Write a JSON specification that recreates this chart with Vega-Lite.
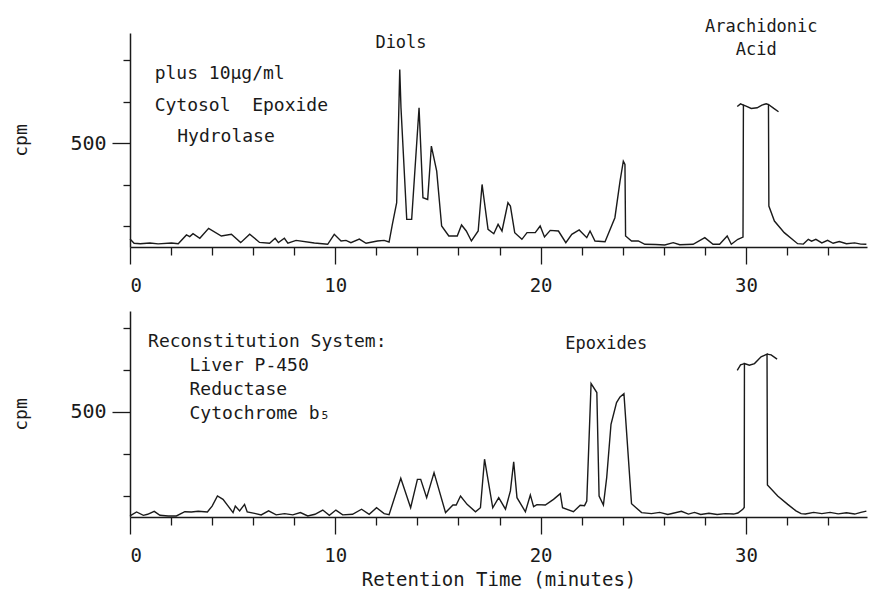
{
  "$schema": "https://vega.github.io/schema/vega-lite/v6.json",
  "padding": {"left": 12, "top": 18, "right": 0, "bottom": 0},
  "background": "white",
  "bounds": "flush",
  "spacing": 64,
  "config": {
    "view": {"stroke": null},
    "font": "DejaVu Sans Mono",
    "axis": {
      "domainColor": "#1a1a1a",
      "domainWidth": 1.5,
      "tickColor": "#1a1a1a",
      "tickWidth": 1.3,
      "labelColor": "#1a1a1a",
      "titleColor": "#1a1a1a",
      "labelFont": "DejaVu Sans Mono",
      "titleFont": "DejaVu Sans Mono",
      "titleFontWeight": "normal",
      "grid": false
    },
    "text": {"font": "DejaVu Sans Mono", "color": "#1a1a1a"}
  },
  "datasets": {
    "top": [
      {"t": 0, "cpm": 38, "seg": "main"}, {"t": 0.2, "cpm": 18, "seg": "main"}, {"t": 0.5, "cpm": 16, "seg": "main"},
      {"t": 0.97, "cpm": 19, "seg": "main"}, {"t": 1.37, "cpm": 15, "seg": "main"}, {"t": 2.02, "cpm": 19, "seg": "main"},
      {"t": 2.35, "cpm": 16, "seg": "main"}, {"t": 2.75, "cpm": 58, "seg": "main"}, {"t": 2.91, "cpm": 50, "seg": "main"},
      {"t": 3.07, "cpm": 64, "seg": "main"}, {"t": 3.4, "cpm": 42, "seg": "main"}, {"t": 3.83, "cpm": 90, "seg": "main"},
      {"t": 4.45, "cpm": 53, "seg": "main"}, {"t": 4.94, "cpm": 61, "seg": "main"}, {"t": 5.39, "cpm": 21, "seg": "main"},
      {"t": 5.83, "cpm": 62, "seg": "main"}, {"t": 6.31, "cpm": 22, "seg": "main"}, {"t": 6.8, "cpm": 18, "seg": "main"},
      {"t": 7.07, "cpm": 42, "seg": "main"}, {"t": 7.23, "cpm": 21, "seg": "main"}, {"t": 7.52, "cpm": 42, "seg": "main"},
      {"t": 7.69, "cpm": 18, "seg": "main"}, {"t": 8.09, "cpm": 32, "seg": "main"}, {"t": 8.98, "cpm": 19, "seg": "main"},
      {"t": 9.63, "cpm": 13, "seg": "main"}, {"t": 9.95, "cpm": 61, "seg": "main"}, {"t": 10.28, "cpm": 29, "seg": "main"},
      {"t": 10.52, "cpm": 32, "seg": "main"}, {"t": 10.76, "cpm": 21, "seg": "main"}, {"t": 11.17, "cpm": 38, "seg": "main"},
      {"t": 11.5, "cpm": 18, "seg": "main"}, {"t": 12.05, "cpm": 29, "seg": "main"}, {"t": 12.38, "cpm": 32, "seg": "main"},
      {"t": 12.62, "cpm": 24, "seg": "main"}, {"t": 12.78, "cpm": 109, "seg": "main"}, {"t": 12.99, "cpm": 213, "seg": "main"},
      {"t": 13.14, "cpm": 854, "seg": "main"}, {"t": 13.2, "cpm": 670, "seg": "main"}, {"t": 13.48, "cpm": 133, "seg": "main"},
      {"t": 13.72, "cpm": 133, "seg": "main"}, {"t": 14.08, "cpm": 670, "seg": "main"}, {"t": 14.27, "cpm": 237, "seg": "main"},
      {"t": 14.5, "cpm": 229, "seg": "main"}, {"t": 14.68, "cpm": 486, "seg": "main"}, {"t": 14.94, "cpm": 365, "seg": "main"},
      {"t": 15.18, "cpm": 101, "seg": "main"}, {"t": 15.53, "cpm": 53, "seg": "main"}, {"t": 15.94, "cpm": 53, "seg": "main"},
      {"t": 16.15, "cpm": 106, "seg": "main"}, {"t": 16.38, "cpm": 77, "seg": "main"}, {"t": 16.63, "cpm": 29, "seg": "main"},
      {"t": 16.96, "cpm": 77, "seg": "main"}, {"t": 17.15, "cpm": 301, "seg": "main"}, {"t": 17.44, "cpm": 85, "seg": "main"},
      {"t": 17.72, "cpm": 64, "seg": "main"}, {"t": 17.93, "cpm": 109, "seg": "main"}, {"t": 18.12, "cpm": 77, "seg": "main"},
      {"t": 18.41, "cpm": 213, "seg": "main"}, {"t": 18.53, "cpm": 197, "seg": "main"}, {"t": 18.74, "cpm": 69, "seg": "main"},
      {"t": 19.09, "cpm": 37, "seg": "main"}, {"t": 19.34, "cpm": 69, "seg": "main"}, {"t": 19.74, "cpm": 69, "seg": "main"},
      {"t": 19.98, "cpm": 101, "seg": "main"}, {"t": 20.19, "cpm": 48, "seg": "main"}, {"t": 20.47, "cpm": 80, "seg": "main"},
      {"t": 20.87, "cpm": 77, "seg": "main"}, {"t": 21.23, "cpm": 21, "seg": "main"}, {"t": 21.52, "cpm": 61, "seg": "main"},
      {"t": 21.88, "cpm": 82, "seg": "main"}, {"t": 22.25, "cpm": 45, "seg": "main"}, {"t": 22.41, "cpm": 77, "seg": "main"},
      {"t": 22.65, "cpm": 29, "seg": "main"}, {"t": 23.14, "cpm": 25, "seg": "main"}, {"t": 23.62, "cpm": 141, "seg": "main"},
      {"t": 23.87, "cpm": 317, "seg": "main"}, {"t": 24.03, "cpm": 413, "seg": "main"}, {"t": 24.11, "cpm": 397, "seg": "main"},
      {"t": 24.14, "cpm": 53, "seg": "main"}, {"t": 24.43, "cpm": 29, "seg": "main"}, {"t": 24.76, "cpm": 29, "seg": "main"},
      {"t": 25.08, "cpm": 13, "seg": "main"}, {"t": 25.6, "cpm": 12, "seg": "main"}, {"t": 26.05, "cpm": 10, "seg": "main"},
      {"t": 26.46, "cpm": 21, "seg": "main"}, {"t": 26.78, "cpm": 11, "seg": "main"}, {"t": 27.43, "cpm": 13, "seg": "main"},
      {"t": 28.0, "cpm": 45, "seg": "main"}, {"t": 28.4, "cpm": 13, "seg": "main"}, {"t": 28.72, "cpm": 13, "seg": "main"},
      {"t": 29.09, "cpm": 53, "seg": "main"}, {"t": 29.29, "cpm": 13, "seg": "main"}, {"t": 29.61, "cpm": 37, "seg": "main"},
      {"t": 29.86, "cpm": 48, "seg": "main"}, {"t": 29.88, "cpm": 683, "seg": "main"}, {"t": 30.01, "cpm": 678, "seg": "main"},
      {"t": 30.26, "cpm": 667, "seg": "main"}, {"t": 30.55, "cpm": 670, "seg": "main"}, {"t": 30.78, "cpm": 683, "seg": "main"},
      {"t": 30.99, "cpm": 689, "seg": "main"}, {"t": 31.1, "cpm": 686, "seg": "main"}, {"t": 31.12, "cpm": 197, "seg": "main"},
      {"t": 31.39, "cpm": 125, "seg": "main"}, {"t": 31.87, "cpm": 69, "seg": "main"}, {"t": 32.52, "cpm": 16, "seg": "main"},
      {"t": 32.8, "cpm": 14, "seg": "main"}, {"t": 33.04, "cpm": 37, "seg": "main"}, {"t": 33.2, "cpm": 28, "seg": "main"},
      {"t": 33.41, "cpm": 37, "seg": "main"}, {"t": 33.7, "cpm": 20, "seg": "main"}, {"t": 33.98, "cpm": 32, "seg": "main"},
      {"t": 34.25, "cpm": 18, "seg": "main"}, {"t": 34.55, "cpm": 26, "seg": "main"}, {"t": 34.9, "cpm": 16, "seg": "main"},
      {"t": 35.3, "cpm": 20, "seg": "main"}, {"t": 35.6, "cpm": 14, "seg": "main"}, {"t": 35.87, "cpm": 13, "seg": "main"},
      {"t": 29.58, "cpm": 676, "seg": "capL"}, {"t": 29.74, "cpm": 689, "seg": "capL"}, {"t": 29.88, "cpm": 683, "seg": "capL"},
      {"t": 31.1, "cpm": 686, "seg": "capR"}, {"t": 31.36, "cpm": 667, "seg": "capR"}, {"t": 31.59, "cpm": 651, "seg": "capR"}
    ],
    "bot": [
      {"t": 0, "cpm": 5, "seg": "main"}, {"t": 0.32, "cpm": 24, "seg": "main"}, {"t": 0.65, "cpm": 8, "seg": "main"},
      {"t": 0.86, "cpm": 13, "seg": "main"}, {"t": 1.18, "cpm": 27, "seg": "main"}, {"t": 1.46, "cpm": 8, "seg": "main"},
      {"t": 1.86, "cpm": 5, "seg": "main"}, {"t": 2.26, "cpm": 5, "seg": "main"}, {"t": 2.67, "cpm": 25, "seg": "main"},
      {"t": 2.99, "cpm": 24, "seg": "main"}, {"t": 3.32, "cpm": 27, "seg": "main"}, {"t": 3.77, "cpm": 24, "seg": "main"},
      {"t": 4.0, "cpm": 52, "seg": "main"}, {"t": 4.26, "cpm": 100, "seg": "main"}, {"t": 4.53, "cpm": 84, "seg": "main"},
      {"t": 4.81, "cpm": 48, "seg": "main"}, {"t": 5.02, "cpm": 21, "seg": "main"}, {"t": 5.13, "cpm": 52, "seg": "main"},
      {"t": 5.34, "cpm": 29, "seg": "main"}, {"t": 5.58, "cpm": 60, "seg": "main"}, {"t": 5.71, "cpm": 24, "seg": "main"},
      {"t": 6.07, "cpm": 17, "seg": "main"}, {"t": 6.39, "cpm": 10, "seg": "main"}, {"t": 6.75, "cpm": 29, "seg": "main"},
      {"t": 7.12, "cpm": 10, "seg": "main"}, {"t": 7.53, "cpm": 16, "seg": "main"}, {"t": 7.93, "cpm": 10, "seg": "main"},
      {"t": 8.3, "cpm": 21, "seg": "main"}, {"t": 8.66, "cpm": 5, "seg": "main"}, {"t": 9.01, "cpm": 13, "seg": "main"},
      {"t": 9.39, "cpm": 33, "seg": "main"}, {"t": 9.71, "cpm": 8, "seg": "main"}, {"t": 10.03, "cpm": 33, "seg": "main"},
      {"t": 10.36, "cpm": 10, "seg": "main"}, {"t": 10.84, "cpm": 13, "seg": "main"}, {"t": 11.28, "cpm": 37, "seg": "main"},
      {"t": 11.65, "cpm": 13, "seg": "main"}, {"t": 12.01, "cpm": 44, "seg": "main"}, {"t": 12.38, "cpm": 16, "seg": "main"},
      {"t": 12.62, "cpm": 11, "seg": "main"}, {"t": 13.19, "cpm": 184, "seg": "main"}, {"t": 13.67, "cpm": 44, "seg": "main"},
      {"t": 14.0, "cpm": 179, "seg": "main"}, {"t": 14.16, "cpm": 179, "seg": "main"}, {"t": 14.45, "cpm": 92, "seg": "main"},
      {"t": 14.81, "cpm": 211, "seg": "main"}, {"t": 15.37, "cpm": 21, "seg": "main"}, {"t": 15.73, "cpm": 57, "seg": "main"},
      {"t": 15.89, "cpm": 57, "seg": "main"}, {"t": 16.1, "cpm": 100, "seg": "main"}, {"t": 16.42, "cpm": 60, "seg": "main"},
      {"t": 16.83, "cpm": 25, "seg": "main"}, {"t": 17.07, "cpm": 44, "seg": "main"}, {"t": 17.27, "cpm": 275, "seg": "main"},
      {"t": 17.67, "cpm": 44, "seg": "main"}, {"t": 17.96, "cpm": 92, "seg": "main"}, {"t": 18.29, "cpm": 37, "seg": "main"},
      {"t": 18.53, "cpm": 124, "seg": "main"}, {"t": 18.69, "cpm": 263, "seg": "main"}, {"t": 18.85, "cpm": 92, "seg": "main"},
      {"t": 19.26, "cpm": 25, "seg": "main"}, {"t": 19.5, "cpm": 105, "seg": "main"}, {"t": 19.66, "cpm": 49, "seg": "main"},
      {"t": 19.82, "cpm": 59, "seg": "main"}, {"t": 20.23, "cpm": 57, "seg": "main"}, {"t": 20.63, "cpm": 84, "seg": "main"},
      {"t": 20.96, "cpm": 111, "seg": "main"}, {"t": 21.07, "cpm": 44, "seg": "main"}, {"t": 21.6, "cpm": 25, "seg": "main"},
      {"t": 21.93, "cpm": 56, "seg": "main"}, {"t": 22.14, "cpm": 54, "seg": "main"}, {"t": 22.25, "cpm": 76, "seg": "main"},
      {"t": 22.46, "cpm": 635, "seg": "main"}, {"t": 22.74, "cpm": 592, "seg": "main"}, {"t": 22.85, "cpm": 100, "seg": "main"},
      {"t": 23.06, "cpm": 57, "seg": "main"}, {"t": 23.22, "cpm": 187, "seg": "main"}, {"t": 23.43, "cpm": 441, "seg": "main"},
      {"t": 23.7, "cpm": 544, "seg": "main"}, {"t": 23.87, "cpm": 571, "seg": "main"}, {"t": 24.06, "cpm": 587, "seg": "main"},
      {"t": 24.43, "cpm": 63, "seg": "main"}, {"t": 24.92, "cpm": 21, "seg": "main"}, {"t": 25.4, "cpm": 16, "seg": "main"},
      {"t": 25.8, "cpm": 22, "seg": "main"}, {"t": 26.2, "cpm": 12, "seg": "main"}, {"t": 26.86, "cpm": 27, "seg": "main"},
      {"t": 27.2, "cpm": 14, "seg": "main"}, {"t": 27.5, "cpm": 22, "seg": "main"}, {"t": 27.8, "cpm": 12, "seg": "main"},
      {"t": 28.2, "cpm": 18, "seg": "main"}, {"t": 28.6, "cpm": 12, "seg": "main"}, {"t": 29.0, "cpm": 16, "seg": "main"},
      {"t": 29.4, "cpm": 14, "seg": "main"}, {"t": 29.61, "cpm": 19, "seg": "main"}, {"t": 29.85, "cpm": 37, "seg": "main"},
      {"t": 29.92, "cpm": 45, "seg": "main"}, {"t": 29.93, "cpm": 730, "seg": "main"}, {"t": 30.17, "cpm": 722, "seg": "main"},
      {"t": 30.42, "cpm": 730, "seg": "main"}, {"t": 30.74, "cpm": 762, "seg": "main"}, {"t": 31.03, "cpm": 775, "seg": "main"},
      {"t": 31.05, "cpm": 152, "seg": "main"}, {"t": 31.55, "cpm": 100, "seg": "main"}, {"t": 32.04, "cpm": 60, "seg": "main"},
      {"t": 32.44, "cpm": 29, "seg": "main"}, {"t": 32.69, "cpm": 16, "seg": "main"}, {"t": 32.9, "cpm": 14, "seg": "main"},
      {"t": 33.3, "cpm": 22, "seg": "main"}, {"t": 33.7, "cpm": 16, "seg": "main"}, {"t": 34.1, "cpm": 22, "seg": "main"},
      {"t": 34.5, "cpm": 15, "seg": "main"}, {"t": 34.9, "cpm": 20, "seg": "main"}, {"t": 35.3, "cpm": 14, "seg": "main"},
      {"t": 35.6, "cpm": 22, "seg": "main"}, {"t": 35.87, "cpm": 28, "seg": "main"},
      {"t": 29.58, "cpm": 698, "seg": "capL"}, {"t": 29.74, "cpm": 724, "seg": "capL"}, {"t": 29.93, "cpm": 730, "seg": "capL"},
      {"t": 31.03, "cpm": 775, "seg": "capR"}, {"t": 31.23, "cpm": 771, "seg": "capR"}, {"t": 31.52, "cpm": 751, "seg": "capR"}
    ],
    "topNotes": [
      {"t": 1.2, "cpm": 832, "label": "plus 10μg/ml"},
      {"t": 1.2, "cpm": 678, "label": "Cytosol\u00a0 Epoxide"},
      {"t": 2.3, "cpm": 529, "label": "Hydrolase"}
    ],
    "topPeaks": [
      {"t": 13.2, "cpm": 980, "label": "Diols"},
      {"t": 30.75, "cpm": 1057, "label": "Arachidonic"},
      {"t": 30.5, "cpm": 947, "label": "Acid"}
    ],
    "botNotes": [
      {"t": 0.88, "cpm": 833, "label": "Reconstitution System:"},
      {"t": 2.9, "cpm": 719, "label": "Liver P-450"},
      {"t": 2.9, "cpm": 605, "label": "Reductase"},
      {"t": 2.9, "cpm": 490, "label": "Cytochrome b₅"}
    ],
    "botPeaks": [
      {"t": 23.2, "cpm": 824, "label": "Epoxides"}
    ]
  },
  "vconcat": [
    {
      "width": 737,
      "height": 214,
      "layer": [
        {
          "data": {"name": "top"},
          "mark": {"type": "line", "color": "#1a1a1a", "strokeWidth": 1.4, "interpolate": "linear"},
          "encoding": {
            "x": {"field": "t", "type": "quantitative", "scale": {"domain": [0, 35.9], "nice": false},
              "axis": {"title": null, "values": [0,1,2,3,4,5,6,7,8,9,10,11,12,13,14,15,16,17,18,19,20,21,22,23,24,25,26,27,28,29,30,31,32,33,34,35],
                "labelExpr": "datum.value % 10 === 0 ? datum.label : ''",
                "tickSize": {"condition": {"test": "datum.value % 10 === 0", "value": 17}, "value": 8},
                "labelFontSize": 19, "labelPadding": 12}},
            "y": {"field": "cpm", "type": "quantitative", "scale": {"domain": [0, 1030], "nice": false},
              "axis": {"title": "cpm", "titleFontSize": 18, "titlePadding": 39, "values": [100,200,300,400,500,600,700,800,900],
                "labelExpr": "datum.value === 500 ? '500' : ''",
                "tickSize": {"condition": {"test": "datum.value === 500", "value": 18}, "value": 7},
                "labelFontSize": 20, "labelPadding": 6}},
            "detail": {"field": "seg", "type": "nominal"}
          }
        },
        {
          "data": {"name": "topNotes"},
          "mark": {"type": "text", "align": "left", "baseline": "middle", "fontSize": 18},
          "encoding": {
            "x": {"field": "t", "type": "quantitative"},
            "y": {"field": "cpm", "type": "quantitative"},
            "text": {"field": "label"}
          }
        },
        {
          "data": {"name": "topPeaks"},
          "mark": {"type": "text", "align": "center", "baseline": "middle", "fontSize": 17},
          "encoding": {
            "x": {"field": "t", "type": "quantitative"},
            "y": {"field": "cpm", "type": "quantitative"},
            "text": {"field": "label"}
          }
        }
      ]
    },
    {
      "width": 737,
      "height": 206,
      "layer": [
        {
          "data": {"name": "bot"},
          "mark": {"type": "line", "color": "#1a1a1a", "strokeWidth": 1.4, "interpolate": "linear"},
          "encoding": {
            "x": {"field": "t", "type": "quantitative", "scale": {"domain": [0, 35.9], "nice": false},
              "axis": {"title": "Retention Time (minutes)", "titleFontSize": 19, "titlePadding": 5, "values": [0,1,2,3,4,5,6,7,8,9,10,11,12,13,14,15,16,17,18,19,20,21,22,23,24,25,26,27,28,29,30,31,32,33,34,35],
                "labelExpr": "datum.value % 10 === 0 ? datum.label : ''",
                "tickSize": {"condition": {"test": "datum.value % 10 === 0", "value": 17}, "value": 8},
                "labelFontSize": 19, "labelPadding": 12}},
            "y": {"field": "cpm", "type": "quantitative", "scale": {"domain": [0, 980], "nice": false},
              "axis": {"title": "cpm", "titleFontSize": 18, "titlePadding": 39, "values": [100,200,300,400,500,600,700,800,900],
                "labelExpr": "datum.value === 500 ? '500' : ''",
                "tickSize": {"condition": {"test": "datum.value === 500", "value": 18}, "value": 7},
                "labelFontSize": 20, "labelPadding": 6}},
            "detail": {"field": "seg", "type": "nominal"}
          }
        },
        {
          "data": {"name": "botNotes"},
          "mark": {"type": "text", "align": "left", "baseline": "middle", "fontSize": 18},
          "encoding": {
            "x": {"field": "t", "type": "quantitative"},
            "y": {"field": "cpm", "type": "quantitative"},
            "text": {"field": "label"}
          }
        },
        {
          "data": {"name": "botPeaks"},
          "mark": {"type": "text", "align": "center", "baseline": "middle", "fontSize": 17},
          "encoding": {
            "x": {"field": "t", "type": "quantitative"},
            "y": {"field": "cpm", "type": "quantitative"},
            "text": {"field": "label"}
          }
        }
      ]
    }
  ]
}
